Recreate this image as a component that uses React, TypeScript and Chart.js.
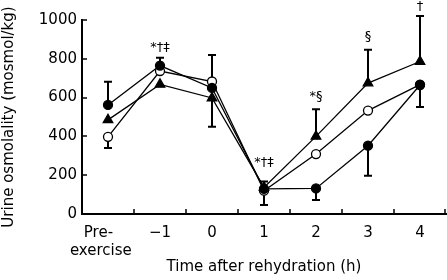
import React, { useEffect, useRef } from 'react';
import { Chart, registerables } from 'chart.js';

Chart.register(...registerables);

// Categories (x axis)
const categories: (string | string[])[] = [['Pre-    ', 'exercise   '], '\u22121', '0', '1', '2', '3', '4'];

// Series values (mosmol/kg)
const filledCircle = [562, 765, 650, 130, 132, 352, 665];
const openCircle = [398, 737, 683, 120, 309, 533, 667];
const filledTriangle = [485, 668, 598, 137, 400, 675, 786];

// Error bar extents (one-sided SD), null = none
const filledCirclePlus = [120, 41, null, null, null, null, null];
const filledCircleMinus = [null, null, null, 84, 60, 155, null];
const openCirclePlus = [null, null, 137, null, null, null, null];
const openCircleMinus = [58, null, null, null, null, null, 115];
const trianglePlus = [null, null, null, 30, 140, 172, 235];
const triangleMinus = [null, null, 148, null, null, null, null];

// Y axis ticks
const yTicks = [0, 200, 400, 600, 800, 1000];

// Significance annotations
const annotIndex = [1, 3, 4, 5, 6];
const annotLabels = ['*\u2020\u2021', '*\u2020\u2021', '*\u00a7', '\u00a7', '\u2020'];
const annotValues = [856, 263, 603, 912, 1067];

const FONT = 'DejaVu Sans';

const errorBarPlugin = {
  id: 'errorBars',
  beforeDatasetsDraw(chart: any) {
    const ctx = chart.ctx;
    const xs = chart.scales.x;
    const ys = chart.scales.y;
    const sets = [
      [filledCircle, filledCirclePlus, filledCircleMinus],
      [openCircle, openCirclePlus, openCircleMinus],
      [filledTriangle, trianglePlus, triangleMinus],
    ];
    ctx.save();
    ctx.strokeStyle = '#000';
    ctx.lineWidth = 2;
    const cap = 4;
    sets.forEach(([vals, plus, minus]) => {
      vals.forEach((v: number, i: number) => {
        const x = xs.getPixelForValue(i);
        const y0 = ys.getPixelForValue(v);
        [plus[i], minus[i] != null ? -(minus[i] as number) : null].forEach((e) => {
          if (e == null) return;
          const y1 = ys.getPixelForValue(v + (e as number));
          ctx.beginPath();
          ctx.moveTo(x, y0);
          ctx.lineTo(x, y1);
          ctx.moveTo(x - cap, y1);
          ctx.lineTo(x + cap, y1);
          ctx.stroke();
        });
      });
    });
    ctx.restore();
  },
  afterDraw(chart: any) {
    const ctx = chart.ctx;
    const xs = chart.scales.x;
    const ys = chart.scales.y;
    const area = chart.chartArea;
    ctx.save();
    ctx.strokeStyle = '#000';
    ctx.lineWidth = 1.5;
    // inward tick marks on x axis at category boundaries
    const half = (xs.getPixelForValue(1) - xs.getPixelForValue(0)) / 2;
    for (let i = 0; i < categories.length; i++) {
      const x = Math.min(Math.round(xs.getPixelForValue(i) + half), area.right - 1);
      ctx.beginPath();
      ctx.moveTo(x, area.bottom);
      ctx.lineTo(x, area.bottom - 5);
      ctx.stroke();
    }
    // inward tick marks on y axis
    yTicks.forEach((v) => {
      const y = Math.round(ys.getPixelForValue(v));
      ctx.beginPath();
      ctx.moveTo(area.left, y);
      ctx.lineTo(area.left + 5, y);
      ctx.stroke();
    });
    // annotations
    ctx.fillStyle = '#000';
    ctx.font = `13px "${FONT}"`;
    ctx.textAlign = 'center';
    ctx.textBaseline = 'middle';
    annotIndex.forEach((idx, k) => {
      ctx.fillText(annotLabels[k], xs.getPixelForValue(idx), ys.getPixelForValue(annotValues[k]));
    });
    ctx.restore();
  },
};

export default function App() {
  const ref = useRef<HTMLCanvasElement | null>(null);
  useEffect(() => {
    document.body.style.margin = '0';
    if (!ref.current) return;
    const common = {
      borderColor: '#000',
      borderWidth: 1.3,
      pointBorderColor: '#000',
      pointBorderWidth: 1.3,
      tension: 0,
      clip: false as any,
    };
    const chart = new Chart(ref.current, {
      type: 'line',
      data: {
        labels: categories as any,
        datasets: [
          { ...common, label: 'Filled circle', data: filledCircle, pointStyle: 'circle', pointRadius: 4.5, pointBackgroundColor: '#000' },
          { ...common, label: 'Open circle', data: openCircle, pointStyle: 'circle', pointRadius: 4.5, pointBackgroundColor: '#fff' },
          { ...common, label: 'Filled triangle', data: filledTriangle, pointStyle: 'triangle', pointRadius: 5.5, pointBackgroundColor: '#000' },
        ],
      },
      options: {
        animation: false,
        responsive: true,
        maintainAspectRatio: false,
        layout: { autoPadding: false, padding: { top: 20, right: 1, left: 0, bottom: 0 } },
        plugins: { legend: { display: false }, tooltip: { enabled: false } },
        scales: {
          x: {
            type: 'category',
            offset: true,
            grid: { display: false, drawTicks: false },
            border: { display: true, color: '#000', width: 2 },
            ticks: { color: '#000', font: { family: FONT, size: 15 }, padding: 10, maxRotation: 0, autoSkip: false },
            title: { display: true, text: 'Time after rehydration (h)', color: '#000', font: { family: FONT, size: 15 }, padding: { top: 0, bottom: 4 } },
            afterFit: (s: any) => { s.height = 66; },
          },
          y: {
            min: 0,
            max: 1000,
            grid: { display: false, drawTicks: false },
            border: { display: true, color: '#000', width: 2 },
            ticks: { color: '#000', font: { family: FONT, size: 15 }, padding: 5, stepSize: 200, callback: (v: any) => String(v) },
            title: { display: true, text: 'Urine osmolality (mosmol/kg)', color: '#000', font: { family: FONT, size: 15 }, padding: { top: 0, bottom: 0 } },
            afterFit: (s: any) => { s.width = 82; },
          },
        },
      },
      plugins: [errorBarPlugin],
    });
    return () => chart.destroy();
  }, []);
  return (
    <div style={{ position: 'absolute', left: 0, top: 0, width: 447, height: 280, background: '#fff' }}>
      <canvas ref={ref} />
    </div>
  );
}
